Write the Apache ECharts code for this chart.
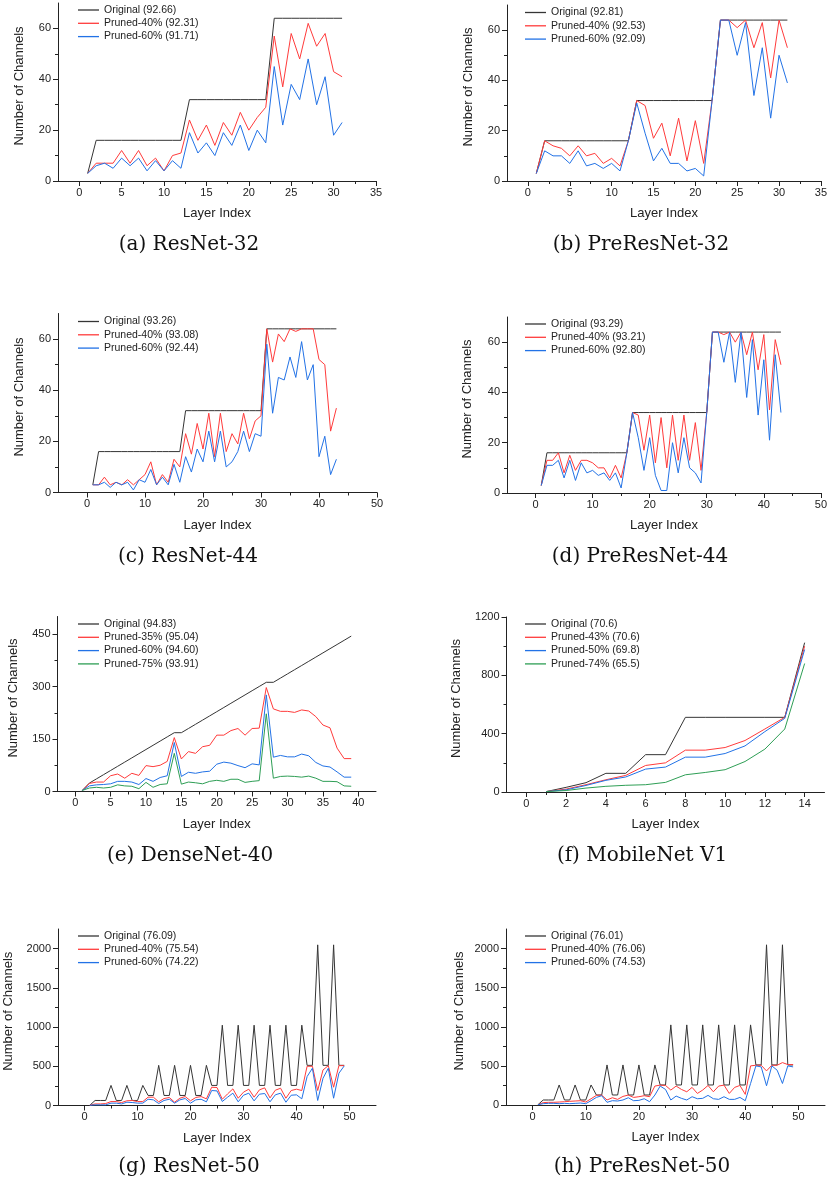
<!DOCTYPE html>
<html>
<head>
<meta charset="utf-8">
<script src="https://cdn.jsdelivr.net/npm/echarts@6/dist/echarts.min.js"></script>
<style>
html, body { margin: 0; padding: 0; background: #fff; }
#chart { width: 830px; height: 1192px; }
</style>
</head>
<body>
<div id="chart"></div>
<script>
// layer indices
var layers31 = [1,2,3,4,5,6,7,8,9,10,11,12,13,14,15,16,17,18,19,20,21,22,23,24,25,26,27,28,29,30,31];
var layers43 = [1,2,3,4,5,6,7,8,9,10,11,12,13,14,15,16,17,18,19,20,21,22,23,24,25,26,27,28,29,30,31,32,33,34,35,36,37,38,39,40,41,42,43];
var layers39 = [1,2,3,4,5,6,7,8,9,10,11,12,13,14,15,16,17,18,19,20,21,22,23,24,25,26,27,28,29,30,31,32,33,34,35,36,37,38,39];
var layers14 = [1,2,3,4,5,6,7,8,9,10,11,12,13,14];
var layers49 = [1,2,3,4,5,6,7,8,9,10,11,12,13,14,15,16,17,18,19,20,21,22,23,24,25,26,27,28,29,30,31,32,33,34,35,36,37,38,39,40,41,42,43,44,45,46,47,48,49];

// (a) ResNet-32
var origA = [3,16,16,16,16,16,16,16,16,16,16,16,32,32,32,32,32,32,32,32,32,32,64,64,64,64,64,64,64,64,64];
var p40A = [3,7,7,7,12,7,12,6,9,4,10,11,24,16,22,14,23,18,27,20,25,29,57,37,58,48,62,53,58,43,41];
var p60A = [3,6,7,5,9,6,9,4,8,4,8,5,19,11,15,10,19,14,22,12,20,15,45,22,38,32,48,30,41,18,23];
// (b) PreResNet-32
var origB = [3,16,16,16,16,16,16,16,16,16,16,16,32,32,32,32,32,32,32,32,32,32,64,64,64,64,64,64,64,64,64];
var p40B = [3,16,14,13,10,14,10,11,7,9,6,16,32,30,17,23,10,25,8,24,7,32,64,64,61,64,53,63,41,64,53];
var p60B = [3,12,10,10,7,12,6,7,5,7,4,16,31,19,8,13,7,7,4,5,2,32,64,64,50,63,34,53,25,50,39];
// (c) ResNet-44
var origC = [3,16,16,16,16,16,16,16,16,16,16,16,16,16,16,16,32,32,32,32,32,32,32,32,32,32,32,32,32,32,64,64,64,64,64,64,64,64,64,64,64,64,64];
var p40C = [3,3,6,3,4,3,5,3,5,7,12,3,7,4,13,10,23,15,27,17,31,14,31,16,23,19,31,21,28,30,64,51,62,59,64,63,64,64,64,52,50,24,33];
var p60C = [3,3,4,2,4,3,4,1,5,4,9,3,6,3,11,4,14,8,17,12,24,12,24,10,12,16,24,16,23,22,58,31,45,44,53,45,59,44,50,14,22,7,13];
// (d) PreResNet-44
var origD = [3,16,16,16,16,16,16,16,16,16,16,16,16,16,16,16,32,32,32,32,32,32,32,32,32,32,32,32,32,32,64,64,64,64,64,64,64,64,64,64,64,64,64];
var p40D = [3,13,13,16,8,15,9,13,13,12,10,10,6,11,6,16,32,31,17,31,12,30,10,31,13,31,13,28,9,32,64,64,63,64,60,64,55,64,49,63,33,61,51];
var p60D = [3,11,11,13,6,13,5,12,8,9,7,8,5,8,2,16,32,22,9,22,7,1,1,20,8,22,10,8,4,32,64,64,52,64,44,64,38,61,31,53,21,55,32];
// (e) DenseNet-40
var origE = [3,24,36,48,60,72,84,96,108,120,132,144,156,168,168,180,192,204,216,228,240,252,264,276,288,300,312,312,324,336,348,360,372,384,396,408,420,432,444];
var p35E = [3,23,27,27,45,50,38,52,46,74,71,75,86,154,93,114,109,128,132,161,161,174,180,161,180,181,297,236,229,229,226,233,230,214,190,182,124,94,94];
var p60E = [3,16,19,20,22,29,29,27,20,37,29,40,45,140,43,55,52,56,58,78,84,81,74,68,79,76,276,98,103,99,99,107,102,83,73,70,56,41,41];
var p75E = [3,10,12,10,12,19,16,15,8,26,12,20,22,109,21,27,25,22,29,32,29,35,35,26,29,31,222,38,43,44,43,41,44,38,29,29,28,16,15];
// (f) MobileNet V1
var origF = [3,32,64,128,128,256,256,512,512,512,512,512,512,1024];
var p43F = [3,20,50,84,114,182,200,287,287,305,353,432,512,1000];
var p50F = [3,15,45,80,103,157,171,239,239,264,316,414,505,977];
var p74F = [3,10,27,39,46,50,66,118,134,153,209,294,432,881];
// (g) ResNet-50
var origG = [3,64,64,64,256,64,64,256,64,64,256,128,128,512,128,128,512,128,128,512,128,128,512,256,256,1024,256,256,1024,256,256,1024,256,256,1024,256,256,1024,256,256,1024,512,512,2048,512,512,2048,512,512];
var p40G = [3,20,20,25,50,50,38,60,64,50,50,106,106,47,89,102,42,93,114,60,102,114,85,233,229,80,148,212,93,170,208,106,199,225,97,195,220,93,191,208,191,500,500,191,453,508,233,508,508];
var p60G = [3,8,8,8,30,30,20,42,38,30,30,80,72,25,64,80,30,72,89,30,72,80,47,191,186,51,106,157,47,131,157,59,144,153,47,136,157,42,131,136,85,369,475,64,347,475,93,411,504];
// (h) PreResNet-50
var origH = [3,64,64,64,256,64,64,256,64,64,256,128,128,512,128,128,512,128,128,512,128,128,512,256,256,1024,256,256,1024,256,256,1024,256,256,1024,256,256,1024,256,256,1024,512,512,2048,512,512,2048,512,512];
var p40H = [3,30,34,34,38,42,47,51,55,38,80,123,127,64,93,72,110,127,97,106,119,106,242,254,250,191,242,199,169,225,148,191,250,169,242,254,148,225,250,136,500,508,508,436,508,508,542,517,517];
var p60H = [3,17,21,21,17,21,17,21,25,17,55,97,119,34,55,51,64,93,55,59,80,42,127,242,199,64,114,85,64,106,80,85,123,80,72,106,72,72,97,55,275,500,487,246,500,445,275,500,487];

// tick values
var xMajor35 = [0,5,10,15,20,25,30,35];
var xMinor35 = [2.5,7.5,12.5,17.5,22.5,27.5,32.5];
var xMajor50 = [0,10,20,30,40,50];
var xMinor50 = [5,15,25,35,45];
var xMajor40 = [0,5,10,15,20,25,30,35,40];
var xMinor40 = [2.5,7.5,12.5,17.5,22.5,27.5,32.5,37.5];
var xMajor14 = [0,2,4,6,8,10,12,14];
var xMinor14 = [1,3,5,7,9,11,13];
var yMajor60 = [0,20,40,60];
var yMinor60 = [10,30,50];
var yMajor450 = [0,150,300,450];
var yMinor450 = [75,225,375];
var yMajor1200 = [0,400,800,1200];
var yMinor1200 = [200,600,1000];
var yMajor2000 = [0,500,1000,1500,2000];
var yMinor2000 = [250,750,1250,1750];

var FONT = '"Liberation Sans", Arial, sans-serif';
var INK = '#222';
var C_ORIG = '#353535', C_RED = '#ff3b3b', C_BLUE = '#2272e6', C_GREEN = '#2e9e55';

var option = {
	animation: false,
	backgroundColor: '#fff',
	grid: [], xAxis: [], yAxis: [], series: [], legend: [], graphic: []
};

function pairs(xs, ys) {
	return xs.map(function(x, i) { return [x, ys[i]]; });
}
function plain(v) { return String(v); }

function addPanel(p) {
	var g = option.grid.length;
	var xi = option.xAxis.length, yi = option.yAxis.length;
	option.grid.push({ left: p.box[0], top: p.box[1], width: p.box[2], height: p.box[3] });
	// main x axis (major ticks + labels)
	option.xAxis.push({
		type: 'value', gridIndex: g, position: 'bottom', min: p.xr[0], max: p.xr[1],
		name: 'Layer Index', nameLocation: 'middle', nameGap: 26,
		nameTextStyle: { fontSize: 13, fontFamily: FONT, color: INK },
		axisLine: { onZero: false, lineStyle: { color: INK, width: 1 } },
		axisTick: { customValues: p.xt[0], length: 5, lineStyle: { color: INK } },
		axisLabel: { customValues: p.xt[0], formatter: plain, fontSize: 11, fontFamily: FONT, color: INK, margin: 6 },
		splitLine: { show: false }
	});
	// minor x ticks
	option.xAxis.push({
		type: 'value', gridIndex: g, position: 'bottom', min: p.xr[0], max: p.xr[1],
		axisLine: { show: false, onZero: false },
		axisTick: { customValues: p.xt[1], length: 3, lineStyle: { color: INK } },
		axisLabel: { show: false }, splitLine: { show: false }
	});
	option.yAxis.push({
		type: 'value', gridIndex: g, position: 'left', min: p.yr[0], max: p.yr[1],
		name: 'Number of Channels', nameLocation: 'middle', nameGap: p.yGap, nameRotate: 90,
		nameTextStyle: { fontSize: 13, fontFamily: FONT, color: INK, padding: [0, 0, 0, 12] },
		axisLine: { onZero: false, lineStyle: { color: INK, width: 1 } },
		axisTick: { customValues: p.yt[0], length: 5, lineStyle: { color: INK } },
		axisLabel: { customValues: p.yt[0], formatter: plain, fontSize: 11, fontFamily: FONT, color: INK, margin: 7 },
		splitLine: { show: false }
	});
	option.yAxis.push({
		type: 'value', gridIndex: g, position: 'left', min: p.yr[0], max: p.yr[1],
		axisLine: { show: false, onZero: false },
		axisTick: { customValues: p.yt[1], length: 3, lineStyle: { color: INK } },
		axisLabel: { show: false }, splitLine: { show: false }
	});
	var names = [];
	p.lines.forEach(function(s, k) {
		names.push(s.name);
		option.series.push({
			type: 'line', name: s.name, xAxisIndex: xi, yAxisIndex: yi,
			data: pairs(p.layers, s.data), symbol: 'none', showSymbol: false,
			color: s.color, lineStyle: { width: 1, color: s.color }, z: 2 + k
		});
	});
	option.legend.push({
		left: p.leg[0], top: p.leg[1], orient: 'vertical', padding: 0, itemGap: 1.3,
		icon: 'rect', itemWidth: 21, itemHeight: 1.3, selectedMode: false,
		textStyle: { fontSize: 10.5, lineHeight: 12, fontFamily: FONT, color: INK },
		data: names
	});
	option.graphic.push({
		type: 'text', x: p.cap[1], y: p.cap[2],
		style: { text: p.cap[0], textAlign: 'center', textVerticalAlign: 'middle',
			font: '20px "DejaVu Serif", serif', fill: '#111' }
	});
}

addPanel({
	box: [58, 3, 318, 178], xr: [-2.5, 35], yr: [0, 70], xt: [xMajor35, xMinor35], yt: [yMajor60, yMinor60],
	layers: layers31, yGap: 32, leg: [78, 4], cap: ['(a) ResNet-32', 189, 245],
	lines: [
		{ name: 'Original (92.66)', data: origA, color: C_ORIG },
		{ name: 'Pruned-40% (92.31)', data: p40A, color: C_RED },
		{ name: 'Pruned-60% (91.71)', data: p60A, color: C_BLUE }
	]
});
addPanel({
	box: [507, 5, 317, 176], xr: [-2.5, 35], yr: [0, 70], xt: [xMajor35, xMinor35], yt: [yMajor60, yMinor60],
	layers: layers31, yGap: 32, leg: [525, 6.5], cap: ['(b) PreResNet-32', 641, 245],
	lines: [
		{ name: 'Original (92.81)', data: origB, color: C_ORIG },
		{ name: 'Pruned-40% (92.53)', data: p40B, color: C_RED },
		{ name: 'Pruned-60% (92.09)', data: p60B, color: C_BLUE }
	]
});
addPanel({
	box: [58, 313.5, 319, 179], xr: [-5, 50], yr: [0, 70], xt: [xMajor50, xMinor50], yt: [yMajor60, yMinor60],
	layers: layers43, yGap: 32, leg: [78, 315.5], cap: ['(c) ResNet-44', 188, 557],
	lines: [
		{ name: 'Original (93.26)', data: origC, color: C_ORIG },
		{ name: 'Pruned-40% (93.08)', data: p40C, color: C_RED },
		{ name: 'Pruned-60% (92.44)', data: p60C, color: C_BLUE }
	]
});
addPanel({
	box: [507, 317, 317, 176], xr: [-5, 50], yr: [0, 70], xt: [xMajor50, xMinor50], yt: [yMajor60, yMinor60],
	layers: layers43, yGap: 33, leg: [525, 318], cap: ['(d) PreResNet-44', 640, 557],
	lines: [
		{ name: 'Original (93.29)', data: origD, color: C_ORIG },
		{ name: 'Pruned-40% (93.21)', data: p40D, color: C_RED },
		{ name: 'Pruned-60% (92.80)', data: p60D, color: C_BLUE }
	]
});
addPanel({
	box: [57.5, 616.5, 318.5, 175], xr: [-2.5, 42.5], yr: [0, 500], xt: [xMajor40, xMinor40], yt: [yMajor450, yMinor450],
	layers: layers39, yGap: 38, leg: [78, 618], cap: ['(e) DenseNet-40', 190, 856],
	lines: [
		{ name: 'Original (94.83)', data: origE, color: C_ORIG },
		{ name: 'Pruned-35% (95.04)', data: p35E, color: C_RED },
		{ name: 'Pruned-60% (94.60)', data: p60E, color: C_BLUE },
		{ name: 'Pruned-75% (93.91)', data: p75E, color: C_GREEN }
	]
});
addPanel({
	box: [506.5, 617, 318, 175], xr: [-1, 15], yr: [0, 1200], xt: [xMajor14, xMinor14], yt: [yMajor1200, yMinor1200],
	layers: layers14, yGap: 44, leg: [525, 618], cap: ['(f) MobileNet V1', 642, 856],
	lines: [
		{ name: 'Original (70.6)', data: origF, color: C_ORIG },
		{ name: 'Pruned-43% (70.6)', data: p43F, color: C_RED },
		{ name: 'Pruned-50% (69.8)', data: p50F, color: C_BLUE },
		{ name: 'Pruned-74% (65.5)', data: p74F, color: C_GREEN }
	]
});
addPanel({
	box: [58, 929, 318, 176.5], xr: [-5, 55], yr: [0, 2250], xt: [xMajor50, xMinor50], yt: [yMajor2000, yMinor2000],
	layers: layers49, yGap: 43, leg: [78, 930], cap: ['(g) ResNet-50', 189, 1167],
	lines: [
		{ name: 'Original (76.09)', data: origG, color: C_ORIG },
		{ name: 'Pruned-40% (75.54)', data: p40G, color: C_RED },
		{ name: 'Pruned-60% (74.22)', data: p60G, color: C_BLUE }
	]
});
addPanel({
	box: [506, 929, 319, 176], xr: [-5, 55], yr: [0, 2250], xt: [xMajor50, xMinor50], yt: [yMajor2000, yMinor2000],
	layers: layers49, yGap: 40, leg: [525, 930], cap: ['(h) PreResNet-50', 642, 1167],
	lines: [
		{ name: 'Original (76.01)', data: origH, color: C_ORIG },
		{ name: 'Pruned-40% (76.06)', data: p40H, color: C_RED },
		{ name: 'Pruned-60% (74.53)', data: p60H, color: C_BLUE }
	]
});

var myChart = echarts.init(document.getElementById('chart'), null, { renderer: 'canvas' });
myChart.setOption(option);
</script>
</body>
</html>
